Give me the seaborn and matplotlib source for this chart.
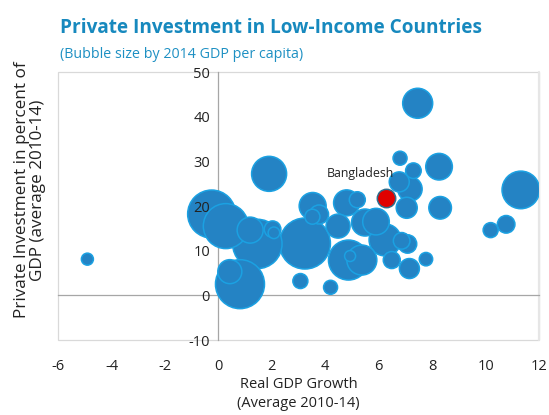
import matplotlib
matplotlib.use("Agg")
import matplotlib.pyplot as plt
from matplotlib.patches import Rectangle
import numpy as np
import pandas as pd
import seaborn as sns

# Real GDP growth (average 2010-14), private investment (% of GDP) and relative bubble size
growth = [-4.9, -0.25, 0.28, 0.81, 0.43, 1.46, 1.19, 2.03, 2.08, 1.90,
          3.07, 3.24, 3.53, 3.52, 3.77, 4.20, 4.80, 5.20, 4.48, 4.87,
          4.93, 5.37, 5.49, 5.90, 6.24, 6.86, 7.08, 6.49, 7.15, 7.77,
          7.46, 6.80, 7.30, 6.77, 7.17, 7.05, 8.26, 8.30, 11.32, 10.77,
          10.19, 6.26]
investment = [8.1, 18.2, 15.5, 2.5, 5.3, 11.5, 14.6, 14.8, 14.0, 27.2,
              3.2, 11.6, 20.0, 17.6, 18.1, 1.8, 20.7, 21.4, 15.5, 7.9,
              8.8, 7.9, 16.3, 16.5, 12.4, 12.2, 11.5, 7.9, 6.0, 8.1,
              43.0, 30.7, 27.9, 25.4, 23.8, 19.6, 28.8, 19.6, 23.6, 15.9,
              14.6, 21.9]
bubble = [6.0, 24.0, 22.5, 24.5, 12.0, 24.7, 13.0, 8.3, 5.8, 17.5,
          7.5, 25.5, 13.5, 7.5, 9.5, 7.0, 13.0, 8.0, 12.0, 20.0,
          5.5, 15.0, 13.5, 13.3, 16.0, 8.3, 9.2, 8.5, 10.0, 6.7,
          15.0, 7.0, 7.8, 10.0, 12.2, 10.5, 13.3, 11.3, 18.8, 8.8,
          7.5, 9.2]
country = [""] * 41 + ["Bangladesh"]
x_ticks = list(range(-6, 13, 2))
y_ticks = list(range(-10, 51, 10))

df = pd.DataFrame({"growth": growth, "investment": investment,
                   "bubble": bubble, "country": country})
df = df.sort_values("bubble", ascending=False, kind="stable")
df["highlight"] = df["country"] == "Bangladesh"

sns.set_theme(style="white")
plt.rcParams["font.family"] = ["Open Sans", "DejaVu Sans"]
plt.rcParams["axes.unicode_minus"] = False

W, H = 549, 415
fig = plt.figure(figsize=(W / 100, H / 100), dpi=100)
ax = fig.add_axes([58 / W, 1 - 340 / H, (539 - 58) / W, (340 - 72) / H])

# marker area in points^2 from bubble radius (pixels at 100 dpi -> points)
size_map = {b: (b * 2 * 0.72) ** 2 for b in df["bubble"].unique()}

base = df[~df["highlight"]]
hl = df[df["highlight"]]
sns.scatterplot(data=base, x="growth", y="investment", size="bubble",
                sizes=size_map, color="#2483C4", edgecolor="#1BA1E2",
                linewidth=1.1, alpha=1, legend=False, ax=ax, zorder=3)
sns.scatterplot(data=hl, x="growth", y="investment", size="bubble",
                sizes=size_map, color="#E00000", edgecolor="#2E6E8E",
                linewidth=1.1, alpha=1, legend=False, ax=ax, zorder=4)
ax.set_xlabel("")
ax.set_ylabel("")

for _, r in hl.iterrows():
    ax.text(r["growth"] - 0.95, r["investment"] + 5.3, r["country"],
            ha="center", va="center", fontsize=8.9, color="#222222")

ax.set_xlim(-6, 12)
ax.set_ylim(-10, 50)
ax.set_xticks(x_ticks)
ax.set_yticks(y_ticks)

# axes cross at the origin; the lines sit beneath the bubbles
for s in ["top", "right"]:
    ax.spines[s].set_visible(False)
for s in ["left", "bottom"]:
    ax.spines[s].set_position(("data", 0))
    ax.spines[s].set_color("#A6A6A6")
    ax.spines[s].set_linewidth(0.9)
    ax.spines[s].set_zorder(1)
ax.tick_params(axis="y", direction="in", length=4, width=0.8, color="#A6A6A6",
               labelleft=False)
ax.tick_params(axis="x", direction="in", length=4, width=0.8, color="#A6A6A6",
               labelbottom=False)

# value labels drawn on top of the bubbles
x0 = (0 - ax.get_xlim()[0]) / (ax.get_xlim()[1] - ax.get_xlim()[0])
sec_y = ax.secondary_yaxis(x0)
sec_y.set_yticks(y_ticks)
sec_y.spines["left"].set_visible(False)
sec_y.tick_params(axis="y", length=0, labelsize=10.5, labelcolor="#222222", pad=6)
sec_y.set_zorder(10)

sec = ax.secondary_xaxis("bottom")
sec.set_xticks(x_ticks)
sec.spines["bottom"].set_visible(False)
sec.tick_params(axis="x", length=0, labelsize=10.5, labelcolor="#222222", pad=14)

# light plot-area frame
ax.add_patch(Rectangle((0, 0), 1, 1, transform=ax.transAxes, fill=False,
                       edgecolor="#D9D9D9", linewidth=0.9, zorder=0, clip_on=False))
ax.plot([1, 1], [0, 1], transform=ax.transAxes, color="#E6E6E6",
        linewidth=1.6, clip_on=False, zorder=0)

sec.set_xlabel("Real GDP Growth\n(Average 2010-14)", fontsize=10.5,
               color="#222222", labelpad=2, linespacing=1.3)
fig.text(30 / W, 1 - 190 / H, "Private Investment in percent of\nGDP (average 2010-14)",
         rotation=90, ha="center", va="center", fontsize=12.3,
         color="#222222", linespacing=1.05)

fig.text(60 / W, 1 - 33 / H, "Private Investment in Low-Income Countries",
         fontsize=13.7, fontweight="bold", color="#1789BE", ha="left", va="baseline")
fig.text(60 / W, 1 - 58 / H, "(Bubble size by 2014 GDP per capita)",
         fontsize=10.3, color="#1E90C3", ha="left", va="baseline")

fig.savefig("out.png", dpi=100)
